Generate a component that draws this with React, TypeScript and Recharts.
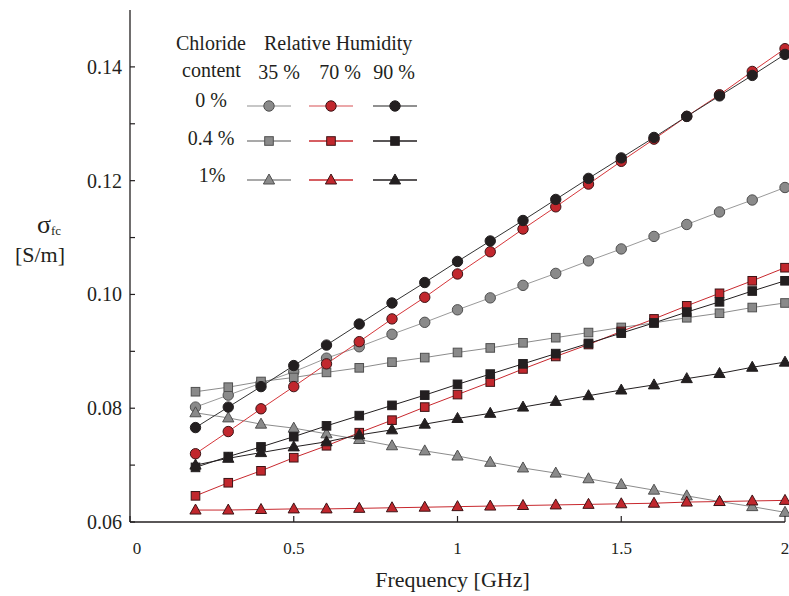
import React from 'react';
import { LineChart, Line, XAxis, YAxis, Label } from 'recharts';

// frequency [GHz]
const freq = [0.2, 0.3, 0.4, 0.5, 0.6, 0.7, 0.8, 0.9, 1.0, 1.1, 1.2, 1.3, 1.4, 1.5, 1.6, 1.7, 1.8, 1.9, 2.0];

// chloride 0 %
const cl0rh35 = [0.0802, 0.0823, 0.0844, 0.0864, 0.0888, 0.0908, 0.0930, 0.0951, 0.0973, 0.0994, 0.1016, 0.1037, 0.1059, 0.1080, 0.1102, 0.1123, 0.1145, 0.1166, 0.1188];
const cl0rh70 = [0.0720, 0.0759, 0.0799, 0.0838, 0.0878, 0.0917, 0.0957, 0.0995, 0.1036, 0.1075, 0.1115, 0.1154, 0.1194, 0.1234, 0.1273, 0.1313, 0.1351, 0.1392, 0.1432];
const cl0rh90 = [0.0766, 0.0802, 0.0838, 0.0875, 0.0911, 0.0948, 0.0985, 0.1021, 0.1058, 0.1094, 0.1130, 0.1167, 0.1204, 0.1240, 0.1276, 0.1313, 0.1349, 0.1385, 0.1422];
// chloride 0.4 %
const cl04rh35 = [0.0829, 0.0837, 0.0847, 0.0854, 0.0863, 0.0871, 0.0881, 0.0889, 0.0898, 0.0906, 0.0915, 0.0924, 0.0933, 0.0942, 0.0950, 0.0959, 0.0967, 0.0977, 0.0985];
const cl04rh70 = [0.0646, 0.0669, 0.0690, 0.0713, 0.0734, 0.0757, 0.0779, 0.0802, 0.0824, 0.0846, 0.0869, 0.0891, 0.0912, 0.0935, 0.0957, 0.0980, 0.1002, 0.1024, 0.1047];
const cl04rh90 = [0.0696, 0.0715, 0.0732, 0.0750, 0.0769, 0.0787, 0.0805, 0.0823, 0.0842, 0.0860, 0.0878, 0.0896, 0.0914, 0.0932, 0.0950, 0.0969, 0.0987, 0.1006, 0.1024];
// chloride 1 %
const cl1rh35 = [0.0792, 0.0783, 0.0772, 0.0765, 0.0755, 0.0745, 0.0734, 0.0725, 0.0716, 0.0705, 0.0695, 0.0686, 0.0676, 0.0666, 0.0656, 0.0646, 0.0636, 0.0627, 0.0617];
const cl1rh70 = [0.0621, 0.0621, 0.0622, 0.0623, 0.0623, 0.0624, 0.0625, 0.0626, 0.0627, 0.0628, 0.0629, 0.0630, 0.0631, 0.0632, 0.0633, 0.0635, 0.0636, 0.0637, 0.0638];
const cl1rh90 = [0.0700, 0.0712, 0.0722, 0.0732, 0.0741, 0.0753, 0.0762, 0.0772, 0.0782, 0.0791, 0.0802, 0.0812, 0.0822, 0.0832, 0.0841, 0.0852, 0.0861, 0.0872, 0.0881];

const xTicks = [0, 0.5, 1, 1.5, 2];
const xTickLabels = ['0', '0.5', '1', '1.5', '2'];
const yTicks = [0.06, 0.07, 0.08, 0.09, 0.1, 0.11, 0.12, 0.13, 0.14];

const chlorideLabels = ['0 %', '0.4 %', '1%'];
const humidityLabels = ['35 %', '70 %', '90 %'];

const data = freq.map((f, i) => ({
  freq: f,
  cl0rh35: cl0rh35[i], cl0rh70: cl0rh70[i], cl0rh90: cl0rh90[i],
  cl04rh35: cl04rh35[i], cl04rh70: cl04rh70[i], cl04rh90: cl04rh90[i],
  cl1rh35: cl1rh35[i], cl1rh70: cl1rh70[i], cl1rh90: cl1rh90[i],
}));

const INK = '#231f20';
const FONT = "'Liberation Serif', 'Times New Roman', serif";

type Shape = 'circle' | 'square' | 'triangle';

// colours per humidity column
const rhStyle = [
  { fill: '#8a8a8a', stroke: '#4f4f4f', line: ['#b5b5b5', '#8c8c8c', '#8c8c8c'] },
  { fill: '#c1272d', stroke: '#3d1416', line: ['#e48a8c', '#c8282e', '#c8282e'] },
  { fill: '#231f20', stroke: '#231f20', line: ['#6b6b6b', '#231f20', '#231f20'] },
];
const shapes: Shape[] = ['circle', 'square', 'triangle'];
const keys = [
  ['cl0rh35', 'cl0rh70', 'cl0rh90'],
  ['cl04rh35', 'cl04rh70', 'cl04rh90'],
  ['cl1rh35', 'cl1rh70', 'cl1rh90'],
];

function Marker({ shape, cx, cy, fill, stroke }: { shape: Shape; cx: number; cy: number; fill: string; stroke: string }) {
  if (shape === 'circle') return <circle cx={cx} cy={cy} r={5.2} fill={fill} stroke={stroke} strokeWidth={1} />;
  if (shape === 'square') return <rect x={cx - 4.3} y={cy - 4.3} width={8.6} height={8.6} fill={fill} stroke={stroke} strokeWidth={1} />;
  return <polygon points={`${cx},${cy - 6} ${cx + 5.6},${cy + 4} ${cx - 5.6},${cy + 4}`} fill={fill} stroke={stroke} strokeWidth={1} />;
}

const makeDot = (shape: Shape, fill: string, stroke: string) => (p: any) => {
  if (p.cx == null || p.cy == null) return <g key={`e-${p.index}`} />;
  return <Marker key={`${shape}-${p.index}`} shape={shape} cx={p.cx} cy={p.cy} fill={fill} stroke={stroke} />;
};

const YTick = (props: any) => {
  const { x, y, payload } = props;
  const v = payload.value as number;
  const major = Math.round(v * 100) % 2 === 0;
  return (
    <g>
      <line x1={x} y1={y} x2={x + 5} y2={y} stroke={INK} strokeWidth={1.2} />
      {major && (
        <text x={x - 8} y={y + 7} textAnchor="end" fontFamily={FONT} fontSize={20} fill={INK}>
          {v.toFixed(2)}
        </text>
      )}
    </g>
  );
};

const XTick = (props: any) => {
  const { x, y, payload, index } = props;
  return (
    <g>
      <line x1={x} y1={y} x2={x} y2={y - 6} stroke={INK} strokeWidth={1.2} />
      <text x={x + (index === 0 ? 7 : 0)} y={y + 32} textAnchor="middle" fontFamily={FONT} fontSize={17} fill={INK}>
        {xTickLabels[index]}
      </text>
    </g>
  );
};

function LegendBox() {
  const colX = [269, 331, 395];
  const rowY = [106, 141, 180];
  const rowTextX = [211, 211, 212];
  const rowTextY = [107, 145, 182];
  const humX = [279, 340, 394];
  return (
    <svg width={789} height={200} style={{ position: 'absolute', left: 0, top: 0, pointerEvents: 'none' }}>
      <g fontFamily={FONT} fontSize={20} fill={INK}>
        <text x={176} y={50}>Chloride</text>
        <text x={182} y={77}>content</text>
        <text x={264} y={50}>Relative Humidity</text>
        {humidityLabels.map((h, j) => (
          <text key={h} x={humX[j]} y={79} textAnchor="middle">{h}</text>
        ))}
        {chlorideLabels.map((c, i) => (
          <text key={c} x={rowTextX[i]} y={rowTextY[i]} textAnchor="middle">{c}</text>
        ))}
      </g>
      {shapes.map((s, i) =>
        rhStyle.map((st, j) => (
          <g key={`${s}-${j}`}>
            <line x1={colX[j] - 22} x2={colX[j] + 22} y1={rowY[i]} y2={rowY[i]} stroke={st.line[i]} strokeWidth={1.3} />
            <Marker shape={s} cx={colX[j]} cy={rowY[i]} fill={st.fill} stroke={st.stroke} />
          </g>
        ))
      )}
    </svg>
  );
}

export default function App() {
  return (
    <div style={{ position: 'absolute', left: 0, top: 0, width: 789, height: 596, background: '#fff' }}>
      <LineChart width={789} height={596} data={data} margin={{ top: 10, right: 4, left: 70, bottom: 44 }}>
        <XAxis
          dataKey="freq"
          type="number"
          domain={[0, 2]}
          ticks={xTicks}
          tickLine={false}
          tickSize={0}
          tickMargin={0}
          axisLine={{ stroke: INK, strokeWidth: 1.3 }}
          tick={<XTick />}
          height={30}
          interval={0}
        >
          <Label
            content={(p: any) => (
              <text x={p.viewBox.x + p.viewBox.width / 2 - 5} y={p.viewBox.y + 65} textAnchor="middle" fontFamily={FONT} fontSize={22} fill={INK}>
                Frequency [GHz]
              </text>
            )}
          />
        </XAxis>
        <YAxis
          type="number"
          domain={[0.06, 0.15]}
          ticks={yTicks}
          tickLine={false}
          tickSize={0}
          tickMargin={0}
          axisLine={{ stroke: INK, strokeWidth: 1.3 }}
          tick={<YTick />}
          width={60}
          interval={0}
        >
          <Label
            content={() => (
              <g fontFamily={FONT} fill={INK}>
                <text x={37} y={233} fontSize={26}>σ<tspan fontSize={13} dy={2}>fc</tspan></text>
                <text x={40} y={262} fontSize={22} textAnchor="middle">[S/m]</text>
              </g>
            )}
          />
        </YAxis>
        {rhStyle.map((st, j) =>
          shapes.map((s, i) => (
            <Line
              key={keys[i][j]}
              dataKey={keys[i][j]}
              type="linear"
              stroke={st.line[i] === '#e48a8c' ? '#d6363a' : st.line[i] === '#b5b5b5' ? '#9a9a9a' : st.line[i] === '#6b6b6b' ? '#333' : st.line[i]}
              strokeWidth={1}
              dot={makeDot(s, st.fill, st.stroke)}
              activeDot={false}
              isAnimationActive={false}
            />
          ))
        )}
      </LineChart>
      <LegendBox />
    </div>
  );
}
